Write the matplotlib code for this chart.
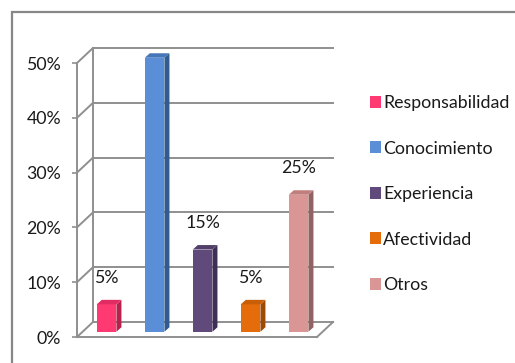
import matplotlib
matplotlib.use("Agg")
import matplotlib.pyplot as plt
from matplotlib.patches import Polygon, Rectangle, Patch
import numpy as np

categories = ["Responsabilidad", "Conocimiento", "Experiencia", "Afectividad", "Otros"]
values = [5, 50, 15, 5, 25]
labels = ["5%", "50%", "15%", "5%", "25%"]
yticks = [0, 10, 20, 30, 40, 50]
yticklabels = ["0%", "10%", "20%", "30%", "40%", "50%"]
front_colors = ["#FF3A72", "#5A8ED6", "#604A7B", "#E46C0A", "#D99694"]
side_colors = ["#B8204E", "#315C90", "#3E2F54", "#9E4A05", "#926262"]
top_colors = ["#E02C62", "#4676B8", "#52406A", "#C85E08", "#C07F7D"]

plt.rcParams['font.family'] = ['Lato', 'DejaVu Sans']
FS = 12.8

W, H = 515, 363
fig = plt.figure(figsize=(W / 100, H / 100), dpi=100)
fig.patch.set_facecolor("white")

# outer border
fig.patches.append(Rectangle((12 / W, -0.2), 1.5, (H - 12) / H + 0.2, transform=fig.transFigure,
                             fill=False, edgecolor="#878787", linewidth=1.6, zorder=0))

ax = fig.add_axes([77 / W, (H - 337) / H, 240 / W, 274 / H])
ax.set_xlim(-0.5, 4.5)
ax.set_ylim(0, 50)
for s in ax.spines.values():
    s.set_visible(False)
ax.patch.set_visible(False)

# depth of wall in data units
px_x = 5 / 240.0
px_y = 50 / 274.0
DX, DY = 16 * px_x, 15 * px_y
gc = "#8F8F8F"
glw = 1.4

# back wall gridlines + diagonals
xl, xr = -0.5, 4.5
for t in yticks:
    ax.plot([xl + DX, xr + DX], [t + DY, t + DY], color=gc, lw=glw, clip_on=False, zorder=1)
    ax.plot([xl, xl + DX], [t, t + DY], color=gc, lw=glw, clip_on=False, zorder=1)
ax.plot([xl + DX, xl + DX], [DY, 50 + DY], color=gc, lw=glw, clip_on=False, zorder=1)
# front axis and floor
ax.plot([xl, xl], [0, 50], color=gc, lw=glw, clip_on=False, zorder=1)
ax.plot([xl, xr], [0, 0], color=gc, lw=glw, clip_on=False, zorder=1)
ax.plot([xr, xr + DX], [0, DY], color=gc, lw=glw, clip_on=False, zorder=1)

ax.set_yticks(yticks)
ax.set_yticklabels(yticklabels, fontsize=FS, color="#1A1A1A")
ax.tick_params(axis='y', length=3.5, width=1.2, color=gc, pad=8)
ax.set_xticks([])

# bars at partial depth
f = 0.35
ox, oy = f * DX, f * DY
bw = 0.41
sdx, sdy = 5 * px_x, 4.5 * px_y
x = np.arange(len(values))
ax.bar(x + ox, values, width=bw, bottom=oy, color=front_colors, zorder=3, clip_on=False)
for i, v in enumerate(values):
    l = x[i] + ox - bw / 2
    r = x[i] + ox + bw / 2
    b = oy
    t = v + oy
    ax.add_patch(Polygon([(r, b), (r + sdx, b + sdy), (r + sdx, t + sdy), (r, t)],
                         closed=True, facecolor=side_colors[i], edgecolor="none", zorder=3, clip_on=False))
    ax.add_patch(Polygon([(l, t), (r, t), (r + sdx, t + sdy), (l + sdx, t + sdy)],
                         closed=True, facecolor=top_colors[i], edgecolor="none", zorder=3, clip_on=False))
    ax.annotate(labels[i], (x[i] + ox, t), xytext=(0, 19), textcoords="offset points",
                ha="center", va="center", fontsize=FS, color="#1A1A1A", zorder=5)

handles = [Patch(facecolor=c, edgecolor="none") for c in front_colors]
fig.legend(handles, categories, loc="upper left", bbox_to_anchor=(363 / W, 1 - 88 / H),
           frameon=False, fontsize=FS, handlelength=0.6, handleheight=0.65,
           handletextpad=0.15, labelspacing=1.66, borderaxespad=0, labelcolor="#1A1A1A")

fig.savefig("out.png", dpi=100, facecolor="white")
